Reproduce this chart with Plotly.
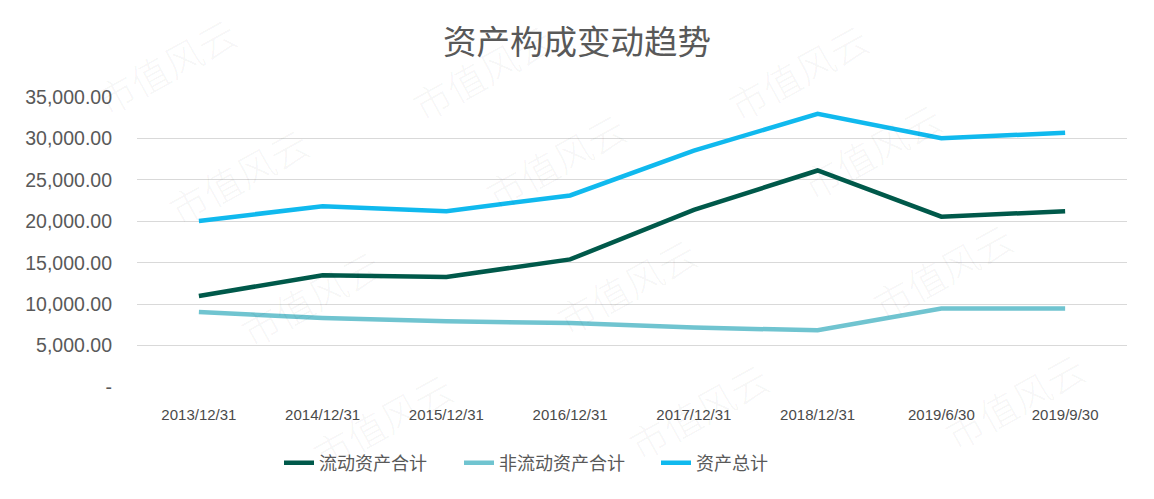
import plotly.graph_objects as go

categories = ["2013/12/31", "2014/12/31", "2015/12/31", "2016/12/31",
              "2017/12/31", "2018/12/31", "2019/6/30", "2019/9/30"]
current_assets = [10990, 13490, 13290, 15400, 21370, 26130, 20560, 21210]
noncurrent_assets = [9050, 8330, 7930, 7720, 7170, 6840, 9470, 9470]
total_assets = [20040, 21820, 21220, 23120, 28540, 32970, 30030, 30680]

y_tickvals = [0, 5000, 10000, 15000, 20000, 25000, 30000, 35000]
y_ticktext = ["-", "5,000.00", "10,000.00", "15,000.00", "20,000.00",
              "25,000.00", "30,000.00", "35,000.00"]

series = [
    ("流动资产合计", current_assets, "#00594A", "legend"),
    ("非流动资产合计", noncurrent_assets, "#70C4D0", "legend2"),
    ("资产总计", total_assets, "#10B9EE", "legend3"),
]

fig = go.Figure()
for name, vals, color, lg in series:
    fig.add_trace(go.Scatter(
        x=categories, y=vals, name=name, mode="lines",
        line=dict(color=color, width=4.5), hoverinfo="skip", legend=lg,
    ))

font_cjk = "Noto Sans CJK SC"
W, H = 1154, 499
plot_l, plot_r, plot_t, plot_b = 137, 1127, 97, 387


def legend_at(px):
    return dict(orientation="h", x=px / W, xref="container", xanchor="left",
                y=1 - 463 / H, yref="container", yanchor="middle",
                font=dict(family=font_cjk, size=18, color="#595959"),
                bgcolor="rgba(0,0,0,0)", borderwidth=0)


fig.update_layout(
    width=W, height=H,
    margin=dict(l=plot_l, r=W - plot_r, t=plot_t, b=H - plot_b, autoexpand=False),
    paper_bgcolor="white", plot_bgcolor="white",
    title=dict(text="资产构成变动趋势", x=0.5, xref="container", xanchor="center",
               y=1 - 42 / H, yref="container", yanchor="middle",
               font=dict(family=font_cjk, size=33.5, color="#595959")),
    showlegend=True,
    legend=legend_at(279),
    legend2=legend_at(459),
    legend3=legend_at(656),
    xaxis=dict(type="category", range=[-0.5, len(categories) - 0.5],
               showgrid=False, zeroline=False, showline=False, automargin=False,
               ticks="", ticklabelstandoff=17,
               tickfont=dict(family="Liberation Sans", size=15, color="#4A4A4A")),
    yaxis=dict(range=[0, 35000], tickvals=y_tickvals, ticktext=y_ticktext,
               showgrid=True, gridcolor="#D9D9D9", gridwidth=1.3, automargin=False,
               zeroline=False, showline=False, ticks="", ticklabelstandoff=24,
               tickfont=dict(family="Liberation Sans", size=19.5, color="#595959")),
)

# faint watermark text
wm_positions = [
    (166, 66), (482, 72), (798, 72),
    (238, 175), (555, 160), (871, 150),
    (310, 297), (626, 285), (942, 270),
    (382, 420), (698, 410), (1014, 400),
]
for (px, py) in wm_positions:
    fig.add_annotation(text="市值风云",
                       x=(px - plot_l) / (plot_r - plot_l),
                       y=(plot_b - py) / (plot_b - plot_t),
                       xref="paper", yref="paper", showarrow=False,
                       textangle=-29, xanchor="center", yanchor="middle",
                       font=dict(family=font_cjk, size=38, weight=300,
                                 color="rgba(0,0,0,0.045)"))

fig.write_html("out.html")
